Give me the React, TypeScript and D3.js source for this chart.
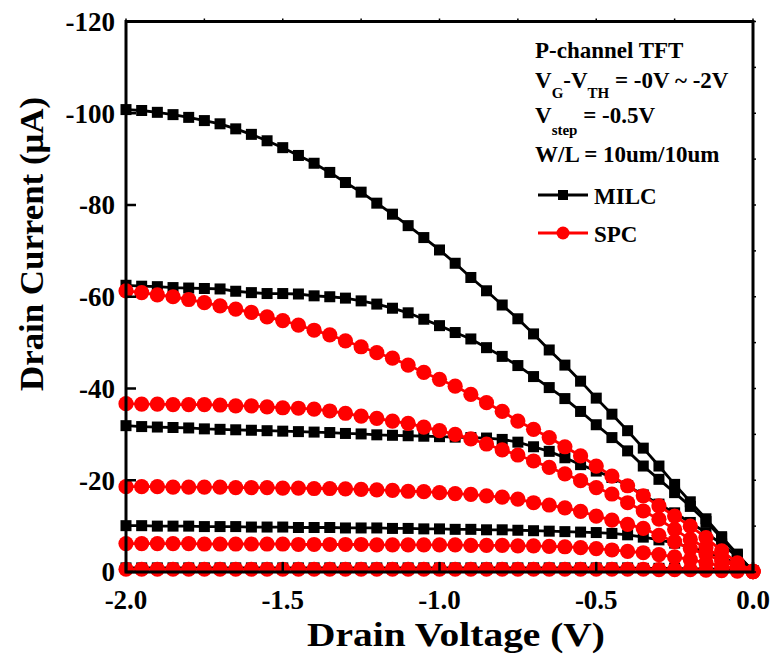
import React from 'react';
import * as d3 from 'd3';

// drain voltage sweep (V)
const drainVoltage = [
  -2.0, -1.95, -1.9, -1.85, -1.8, -1.75, -1.7, -1.65, -1.6, -1.55,
  -1.5, -1.45, -1.4, -1.35, -1.3, -1.25, -1.2, -1.15, -1.1, -1.05,
  -1.0, -0.95, -0.9, -0.85, -0.8, -0.75, -0.7, -0.65, -0.6, -0.55,
  -0.5, -0.45, -0.4, -0.35, -0.3, -0.25, -0.2, -0.15, -0.1, -0.05,
  0.0,
];

// MILC drain current (uA), one array per VG-VTH step
const milc_m20 = [
  -100.8, -100.6, -100.2, -99.7, -99.1, -98.4, -97.7, -96.6, -95.4, -94.0,
  -92.5, -90.8, -89.1, -87.1, -84.9, -82.8, -80.4, -78.0, -75.5, -72.9,
  -70.2, -67.3, -64.2, -61.3, -58.2, -55.2, -51.9, -48.4, -45.1, -41.6,
  -37.9, -34.4, -30.8, -27.0, -23.1, -19.1, -15.3, -11.6, -7.7, -3.9,
  -0.2,
];
const milc_m15 = [
  -62.5, -62.3, -62.2, -62.0, -61.9, -61.8, -61.7, -61.2, -60.9, -60.7,
  -60.7, -60.6, -60.2, -60.0, -59.7, -59.1, -58.4, -57.5, -56.5, -55.1,
  -53.7, -52.2, -50.8, -48.9, -47.0, -45.0, -42.6, -40.2, -37.8, -35.0,
  -32.1, -29.3, -26.4, -23.1, -20.2, -17.3, -14.3, -11.0, -7.4, -3.7,
  -0.2,
];
const milc_m10 = [
  -31.9, -31.7, -31.6, -31.5, -31.4, -31.2, -31.1, -31.0, -30.9, -30.8,
  -30.7, -30.6, -30.5, -30.4, -30.2, -30.1, -29.9, -29.8, -29.7, -29.6,
  -29.5, -29.4, -29.3, -29.2, -28.9, -28.3, -27.3, -26.3, -24.9, -23.4,
  -22.0, -20.6, -18.8, -16.8, -14.8, -12.9, -10.8, -8.6, -6.1, -3.3,
  -0.2,
];
const milc_m05 = [
  -10.1, -10.1, -10.0, -10.0, -10.0, -9.9, -9.9, -9.9, -9.8, -9.8,
  -9.8, -9.7, -9.7, -9.7, -9.6, -9.6, -9.6, -9.5, -9.5, -9.4,
  -9.4, -9.3, -9.3, -9.2, -9.2, -9.1, -9.0, -8.9, -8.8, -8.7,
  -8.6, -8.4, -8.1, -7.6, -7.0, -6.3, -5.4, -4.4, -3.2, -1.8,
  -0.2,
];
const milc_m00 = [
  -0.9, -0.9, -0.9, -0.9, -0.9, -0.9, -0.9, -0.9, -0.9, -0.9,
  -0.9, -0.9, -0.9, -0.9, -0.9, -0.9, -0.9, -0.9, -0.9, -0.9,
  -0.9, -0.9, -0.9, -0.9, -0.9, -0.9, -0.9, -0.9, -0.9, -0.9,
  -0.9, -0.9, -0.9, -0.8, -0.8, -0.8, -0.7, -0.7, -0.6, -0.4,
  -0.1,
];

// SPC drain current (uA)
const spc_m20 = [
  -61.3, -60.9, -60.4, -60.0, -59.4, -58.7, -58.0, -57.3, -56.6, -55.6,
  -54.8, -53.8, -52.7, -51.7, -50.4, -49.1, -47.8, -46.6, -45.1, -43.5,
  -42.0, -40.5, -38.7, -36.9, -35.0, -32.9, -31.1, -29.3, -27.3, -25.3,
  -23.1, -20.9, -18.8, -16.6, -14.4, -12.2, -10.0, -7.5, -4.6, -2.0,
  -0.2,
];
const spc_m15 = [
  -36.7, -36.6, -36.6, -36.5, -36.5, -36.5, -36.4, -36.2, -36.2, -36.0,
  -35.8, -35.7, -35.5, -35.1, -34.6, -34.0, -33.5, -32.9, -32.4, -31.6,
  -30.8, -30.0, -29.0, -27.9, -26.6, -25.5, -24.2, -22.8, -21.4, -19.9,
  -18.4, -17.0, -15.1, -13.3, -11.5, -9.3, -7.1, -5.3, -3.1, -1.3,
  -0.1,
];
const spc_m10 = [
  -18.6, -18.6, -18.6, -18.5, -18.5, -18.5, -18.5, -18.4, -18.4, -18.4,
  -18.3, -18.3, -18.2, -18.2, -18.1, -18.0, -17.9, -17.8, -17.6, -17.5,
  -17.3, -17.1, -16.9, -16.6, -16.3, -15.9, -15.1, -14.6, -14.0, -13.2,
  -12.2, -11.3, -10.4, -9.5, -8.0, -6.6, -5.1, -3.8, -2.4, -1.2,
  -0.1,
];
const spc_m05 = [
  -6.2, -6.2, -6.2, -6.2, -6.2, -6.1, -6.1, -6.1, -6.1, -6.1,
  -6.1, -6.0, -6.0, -6.0, -6.0, -6.0, -5.9, -5.9, -5.9, -5.9,
  -5.9, -5.9, -5.8, -5.8, -5.8, -5.7, -5.7, -5.6, -5.5, -5.3,
  -5.1, -4.8, -4.5, -4.2, -3.8, -3.3, -2.7, -2.0, -1.3, -0.7,
  -0.1,
];
const spc_m00 = [
  -0.6, -0.6, -0.6, -0.6, -0.6, -0.6, -0.6, -0.6, -0.6, -0.6,
  -0.6, -0.6, -0.6, -0.6, -0.6, -0.6, -0.6, -0.6, -0.6, -0.6,
  -0.6, -0.6, -0.6, -0.6, -0.6, -0.6, -0.6, -0.6, -0.6, -0.6,
  -0.6, -0.6, -0.6, -0.6, -0.5, -0.5, -0.5, -0.4, -0.3, -0.2,
  -0.1,
];

const milcSeries = [milc_m00, milc_m05, milc_m10, milc_m15, milc_m20];
const spcSeries = [spc_m00, spc_m05, spc_m10, spc_m15, spc_m20];

const xTicks = [-2.0, -1.5, -1.0, -0.5, 0.0];
const xTickLabels = ['-2.0', '-1.5', '-1.0', '-0.5', '0.0'];
const yTicks = [-120, -100, -80, -60, -40, -20, 0];
const yTickLabels = ['-120', '-100', '-80', '-60', '-40', '-20', '0'];

const W = 774;
const H = 655;
const left = 126, right = 753, top = 21.5, bottom = 572;
const font = '"Liberation Serif", "Times New Roman", serif';
const RED = '#ff0000';

export default function App() {
  const x = d3.scaleLinear().domain([-2, 0]).range([left, right]);
  const y = d3.scaleLinear().domain([-120, 0]).range([top, bottom]);

  const line = d3.line<number>()
    .x((d, i) => x(drainVoltage[i]))
    .y((d) => y(d));

  const sq = 11;
  const minorY = d3.range(-120, 1, 10);
  const minorX = d3.range(-2, 0.001, 0.25);

  return (
    <svg width={W} height={H} style={{ position: 'absolute', left: 0, top: 0, background: '#fff' }}
      fontFamily={font} fontWeight="bold">
      <rect x={0} y={0} width={W} height={H} fill="#fff" />

      {/* MILC */}
      {milcSeries.map((s, k) => (
        <g key={'m' + k}>
          <path d={line(s) || ''} fill="none" stroke="#000" strokeWidth={2.8} />
          {s.map((v, i) => (
            <rect key={i} x={x(drainVoltage[i]) - sq / 2} y={y(v) - sq / 2} width={sq} height={sq} fill="#000" />
          ))}
        </g>
      ))}

      {/* SPC */}
      {spcSeries.map((s, k) => (
        <g key={'s' + k}>
          <path d={line(s) || ''} fill="none" stroke={RED} strokeWidth={2.8} />
          {s.map((v, i) => (
            <circle key={i} cx={x(drainVoltage[i])} cy={y(v)} r={7.6} fill={RED} />
          ))}
        </g>
      ))}

      {/* frame */}
      <rect x={left} y={top} width={right - left} height={bottom - top} fill="none" stroke="#000" strokeWidth={3} />

      {/* left ticks (inward) */}
      {yTicks.map((t) => (
        <line key={'yl' + t} x1={left} x2={left + 10} y1={y(t)} y2={y(t)} stroke="#000" strokeWidth={2.5} />
      ))}
      {/* right ticks (small, outward) */}
      {minorY.map((t) => (
        <line key={'yr' + t} x1={right} x2={right + 3} y1={y(t)} y2={y(t)} stroke="#000" strokeWidth={1.5} />
      ))}
      {/* bottom ticks (inward) */}
      {xTicks.map((t) => (
        <line key={'xb' + t} x1={x(t)} x2={x(t)} y1={bottom} y2={bottom - 10} stroke="#000" strokeWidth={2.5} />
      ))}
      {/* top ticks (small, outward) */}
      {minorX.map((t) => (
        <line key={'xt' + t} x1={x(t)} x2={x(t)} y1={top} y2={top - 3} stroke="#000" strokeWidth={1.5} />
      ))}

      {/* tick labels */}
      {yTicks.map((t, i) => (
        <text key={'yt' + t} x={115} y={y(t)} dy="0.35em" textAnchor="end" fontSize={27}>{yTickLabels[i]}</text>
      ))}
      {xTicks.map((t, i) => (
        <text key={'xtl' + t} x={x(t)} y={609} textAnchor="middle" fontSize={27}>{xTickLabels[i]}</text>
      ))}

      {/* axis titles */}
      <text transform="translate(43,244) rotate(-90)" textAnchor="middle" fontSize={34}
        textLength={294} lengthAdjust="spacingAndGlyphs">Drain Current (μA)</text>
      <text x={456} y={646} textAnchor="middle" fontSize={34}
        textLength={298} lengthAdjust="spacingAndGlyphs">Drain Voltage (V)</text>

      {/* annotation + legend */}
      <g fontSize={23}>
        <text x={535} y={58}>P-channel TFT</text>
        <text x={535} y={88}>
          V<tspan fontSize={15} dy={10}>G</tspan><tspan dy={-10}>-V</tspan><tspan fontSize={15} dy={10}>TH</tspan><tspan dy={-10}> = -0V ~ -2V</tspan>
        </text>
        <text x={535} y={123}>
          V<tspan fontSize={15} dy={12}>step</tspan><tspan dy={-12}> = -0.5V</tspan>
        </text>
        <text x={535} y={162}>W/L = 10um/10um</text>

        <line x1={538} x2={588} y1={195} y2={195} stroke="#000" strokeWidth={2.8} />
        <rect x={563 - 5} y={195 - 5} width={10} height={10} fill="#000" />
        <text x={594} y={204}>MILC</text>

        <line x1={538} x2={588} y1={233} y2={233} stroke={RED} strokeWidth={2.8} />
        <circle cx={563} cy={233} r={6.5} fill={RED} />
        <text x={594} y={242}>SPC</text>
      </g>
    </svg>
  );
}
